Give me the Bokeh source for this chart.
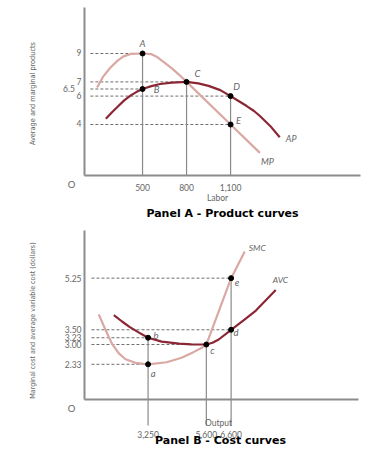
from math import pi
from bokeh.plotting import figure
from bokeh.models import FixedTicker, Label, Range1d
from bokeh.layouts import column
from bokeh.embed import file_html
from bokeh.resources import INLINE

# ---------------- Panel A : product curves ----------------
labor_ticks = [500, 800, 1100]
labor_tick_labels = ["500", "800", "1,100"]
prod_ticks = [4, 6, 6.5, 7, 9]
prod_tick_labels = ["4", "6", "6.5\u00a0\u00a0\u00a0", "7", "9"]

mp_x = [190, 230, 280, 330, 370, 420, 500, 560, 600, 645, 700, 750, 800, 1100, 1300]
mp_y = [6.6, 7.35, 8.0, 8.5, 8.8, 8.97, 9.0, 8.95, 8.75, 8.4, 7.95, 7.5, 7.0, 4.0, 2.0]

ap_x = [250, 290, 330, 375, 420, 460, 500, 560, 620, 700, 800, 880, 950, 1030, 1100, 1160,
        1210, 1260, 1300, 1370, 1435]
ap_y = [4.4, 4.85, 5.25, 5.7, 6.05, 6.3, 6.5, 6.7, 6.85, 6.95, 7.0, 6.9, 6.72, 6.42, 6.0, 5.62,
        5.3, 4.95, 4.6, 3.9, 3.1]

a_pt_names = ["A", "B", "C", "D", "E"]
a_pt_x = [500, 500, 800, 1100, 1100]
a_pt_y = [9, 6.5, 7, 6, 4]

# ---------------- Panel B : cost curves ----------------
output_ticks = [3250, 5600, 6600]
output_tick_labels = ["3,250", "5,600", "6,600"]
cost_ticks = [2.33, 3.00, 3.23, 3.50, 5.25]
cost_tick_labels = ["2.33", "3.00", "3.23", "3.50", "5.25"]

smc_x = [1260, 1530, 1800, 2070, 2340, 2740, 3250, 4000, 4600, 5100, 5400, 5600, 6100, 6600, 7150]
smc_y = [4.02, 3.5, 3.02, 2.7, 2.5, 2.38, 2.33, 2.40, 2.55, 2.75, 2.88, 3.0, 4.12, 5.25, 6.15]

avc_x = [1870, 2200, 2500, 2850, 3250, 3800, 4500, 5000, 5600, 5850, 6100, 6600, 7100, 7600, 8400]
avc_y = [4.0, 3.78, 3.6, 3.42, 3.23, 3.1, 3.03, 3.005, 3.0, 3.06, 3.17, 3.5, 3.82, 4.15, 4.85]

b_pt_names = ["a", "b", "c", "d", "e"]
b_pt_x = [3250, 3250, 5600, 6600, 6600]
b_pt_y = [2.33, 3.23, 3.00, 3.50, 5.25]

# ---------------- styles ----------------
LIGHT = "#d9a8a3"
DARK = "#8b2635"
AXIS = "#8c8c8c"
GUIDE = "#8a8a8a"
DASH = "#6e6e6e"
TXT = "#666666"
TICK_FONT = "Lato"
TITLE_FONT = "DejaVu Sans"
YTITLE_FONT = "'Liberation Sans Narrow', 'DejaVu Sans Condensed', sans-serif"


def make_fig(xr, yr):
    p = figure(width=378, height=228, x_range=Range1d(*xr), y_range=Range1d(*yr),
               output_backend="svg", toolbar_location=None,
               min_border_left=0, min_border_right=0, min_border_top=0, min_border_bottom=0)
    p.outline_line_color = None
    p.xgrid.grid_line_color = None
    p.ygrid.grid_line_color = None
    for ax in (p.xaxis[0], p.yaxis[0]):
        ax.major_tick_line_color = None
        ax.minor_tick_line_color = None
        ax.major_tick_out = 0
        ax.major_tick_in = 0
        ax.minor_tick_out = 0
        ax.minor_tick_in = 0
        ax.major_label_text_font = TICK_FONT
        ax.major_label_text_font_size = "8.5px"
        ax.major_label_text_color = TXT
        ax.axis_line_color = AXIS
        ax.axis_line_width = 2
    return p


def add_label(p, x, y, text, dx=0, dy=0, size="9.5px", font=TICK_FONT, style="normal",
              color=TXT, align="center", angle=0.0):
    p.add_layout(Label(x=x, y=y, x_offset=dx, y_offset=dy, text=text, text_font=font,
                       text_font_size=size, text_font_style=style, text_color=color,
                       text_align=align, text_baseline="middle", angle=angle))


def guides(p, xs, ys, x_axis, y_bottom):
    # dashed horizontals from the axis to each point
    p.segment(x0=[x_axis] * len(xs), y0=ys, x1=xs, y1=ys, line_color=DASH,
              line_width=1, line_dash="3 2")
    # vertical drop lines from the highest point at each x
    tops = {}
    for x, y in zip(xs, ys):
        tops[x] = max(y, tops.get(x, y))
    vx = list(tops.keys())
    p.segment(x0=vx, y0=[tops[v] for v in vx], x1=vx, y1=[y_bottom] * len(vx),
              line_color=GUIDE, line_width=1.2)


# ===== Panel A figure =====
A_X0, A_X1, A_Y0, A_Y1 = 104.3, 1985.7, 0.408, 12.24
pa = make_fig((-468.3, 2108.4), (-3.324, 12.732))
pa.xaxis.fixed_location = A_Y0
pa.yaxis.fixed_location = A_X0
pa.xaxis.bounds = (A_X0, A_X1)
pa.yaxis.bounds = (A_Y0, A_Y1)
pa.xaxis.ticker = FixedTicker(ticks=labor_ticks)
pa.xaxis.major_label_overrides = dict(zip(labor_ticks, labor_tick_labels))
pa.xaxis.major_label_standoff = 8
pa.yaxis.ticker = FixedTicker(ticks=prod_ticks)
pa.yaxis.major_label_overrides = dict(zip(prod_ticks, prod_tick_labels))
pa.yaxis.major_label_standoff = 3

guides(pa, a_pt_x, a_pt_y, A_X0 + 40, A_Y0)
pa.line(mp_x, mp_y, line_color=LIGHT, line_width=2.2)
pa.line(ap_x, ap_y, line_color=DARK, line_width=2.2)
pa.scatter(a_pt_x, a_pt_y, size=5, color="black")

a_offsets = {"A": (0, 10), "B": (14, -1), "C": (11, 8), "D": (6, 10), "E": (8, 4)}
for n, x, y in zip(a_pt_names, a_pt_x, a_pt_y):
    dx, dy = a_offsets[n]
    add_label(pa, x, y, n, dx, dy, style="italic")
add_label(pa, ap_x[-1], ap_y[-1], "AP", 6, -1.5, size="9px", style="italic", align="left")
add_label(pa, mp_x[-1], mp_y[-1], "MP", 1, -8.5, size="9px", style="italic", align="left")
add_label(pa, 16, -0.25, "O", size="9.5px")
add_label(pa, 1011, -1.21, "Labor", size="8.5px")
add_label(pa, 1045, -2.27, "Panel A - Product curves", size="11px", font=TITLE_FONT,
          style="bold", color="black")
add_label(pa, -250, 6.18, "Average and marginal products", size="7.3px", font=YTITLE_FONT,
          angle=pi / 2)

# ===== Panel B figure =====
B_X0, B_X1, B_Y0, B_Y1 = 686, 11739, 1.137, 6.865
B_DROP = 0.255
pb = make_fig((-2703, 12545), (-0.796, 6.933))
pb.xaxis.fixed_location = B_Y0
pb.yaxis.fixed_location = B_X0
pb.xaxis.bounds = (B_X0, B_X1)
pb.yaxis.bounds = (B_Y0, B_Y1)
pb.xaxis.ticker = FixedTicker(ticks=output_ticks)
pb.xaxis.major_label_overrides = dict(zip(output_ticks, output_tick_labels))
pb.xaxis.major_label_standoff = 32
pb.yaxis.ticker = FixedTicker(ticks=cost_ticks)
pb.yaxis.major_label_overrides = dict(zip(cost_ticks, cost_tick_labels))
pb.yaxis.major_label_standoff = 3

guides(pb, b_pt_x, b_pt_y, B_X0 + 280, B_DROP)
pb.line(smc_x, smc_y, line_color=LIGHT, line_width=2.2)
pb.line(avc_x, avc_y, line_color=DARK, line_width=2.2)
pb.scatter(b_pt_x, b_pt_y, size=5, color="black")

b_offsets = {"a": (5, -9), "b": (8, 2), "c": (6, -6), "d": (5, -3), "e": (6, -4)}
for n, x, y in zip(b_pt_names, b_pt_x, b_pt_y):
    dx, dy = b_offsets[n]
    add_label(pb, x, y, n, dx, dy, style="italic")
add_label(pb, smc_x[-1], smc_y[-1], "SMC", 4, 4, size="8.5px", style="italic", align="left")
add_label(pb, avc_x[-1], avc_y[-1], "AVC", -3, 10, size="8.5px", style="italic", align="left")
add_label(pb, 161, 0.83, "O", size="9.5px")
add_label(pb, 6091, 0.323, "Output", size="8.5px")
add_label(pb, 6172, -0.253, "Panel B - Cost curves", size="11px", font=TITLE_FONT,
          style="bold", color="black")
add_label(pb, -1412, 3.815, "Marginal cost and average variable cost (dollars)", size="7.1px",
          font=YTITLE_FONT, angle=pi / 2)

layout = column(pa, pb, spacing=0)
open("out.html", "w").write(file_html(layout, INLINE))
